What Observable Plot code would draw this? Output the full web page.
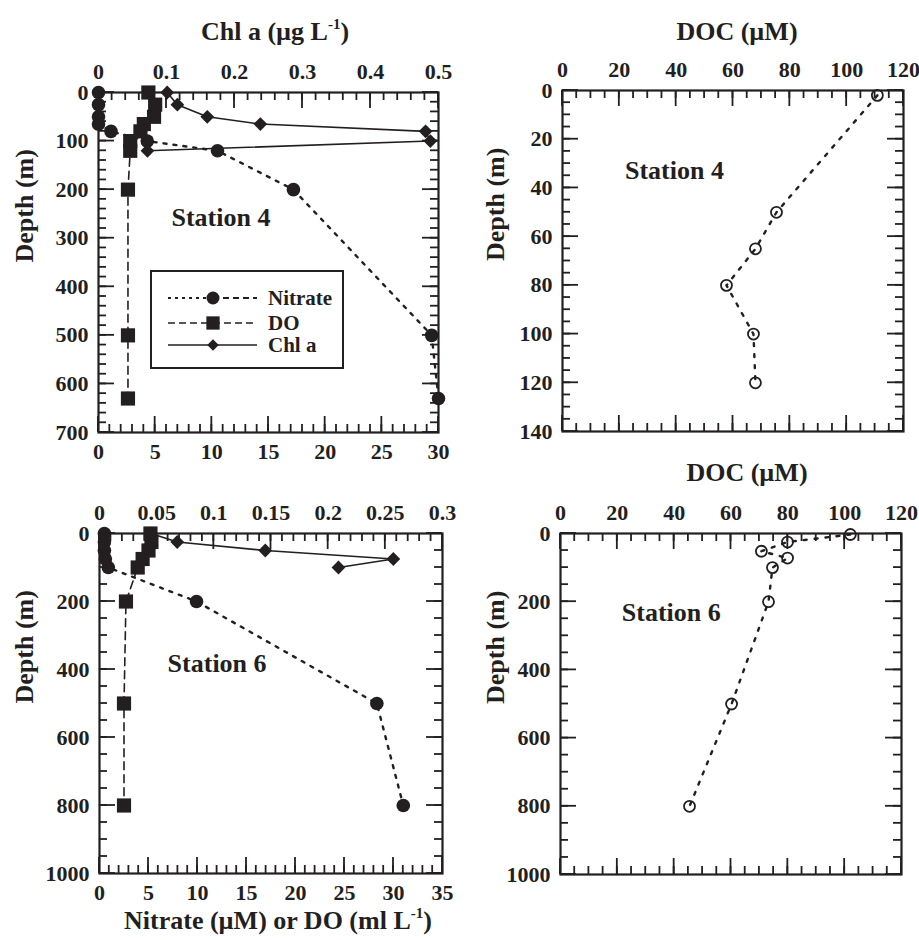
<!DOCTYPE html>
<html><head><meta charset="utf-8">
<script src="https://cdn.jsdelivr.net/npm/d3@7"></script>
<script src="https://cdn.jsdelivr.net/npm/@observablehq/plot@0.6"></script>
<style>
body{margin:0;background:#fff;}
#wrap{position:relative;width:919px;height:940px;background:#fff;font-family:"Liberation Serif","Times New Roman",serif;font-weight:bold;color:#231f20;}
.title{position:absolute;font-size:26px;line-height:26px;text-align:center;white-space:nowrap;}
.title sup{font-size:15px;line-height:0;vertical-align:baseline;position:relative;top:-11px;}
#legend{position:absolute;left:150px;top:270px;z-index:2;}
.ticks{position:absolute;z-index:1;pointer-events:none;overflow:visible;}
</style></head><body><div id="wrap"></div>
<script>
const INK = "#231f20";

// ---------- Station 4: nitrate / DO / Chl a ----------
const st4Depth    = [0, 25, 50, 65, 80, 100, 120, 200, 500, 630];
const st4Nitrate  = [0, 0, 0, 0, 1.1, 4.3, 10.5, 17.2, 29.4, 30.0];
const st4DO       = [4.4, 5.0, 4.9, 4.0, 3.7, 2.8, 2.8, 2.6, 2.6, 2.6];
const st4ChlDepth = [0, 25, 50, 65, 80, 100, 120];
const st4Chl      = [0.101, 0.116, 0.160, 0.238, 0.481, 0.488, 0.072];
// ---------- Station 4: DOC ----------
const st4DocDepth = [2, 50, 65, 80, 100, 120];
const st4Doc      = [110.8, 75.3, 67.9, 57.7, 67.2, 67.9];
// ---------- Station 6: nitrate / DO / Chl a ----------
const st6Depth    = [0, 25, 50, 75, 100, 200, 500, 800];
const st6Nitrate  = [0.5, 0.5, 0.5, 0.6, 0.9, 9.9, 28.3, 31.0];
const st6DO       = [5.2, 5.3, 5.0, 4.4, 3.9, 2.7, 2.5, 2.5];
const st6ChlDepth = [0, 25, 50, 75, 100];
const st6Chl      = [0.045, 0.068, 0.145, 0.257, 0.209];
// ---------- Station 6: DOC ----------
const st6DocDepth = [3, 25, 52, 72, 100, 200, 500, 800];
const st6Doc      = [102, 79.9, 70.7, 79.9, 74.6, 73.2, 60.2, 45.4];

// ---------- tick labels ----------
const nitrate4Ticks = [0, 5, 10, 15, 20, 25, 30];
const chl4Ticks     = [0, 0.1, 0.2, 0.3, 0.4, 0.5];
const depth4Ticks   = [0, 100, 200, 300, 400, 500, 600, 700];
const docTicks      = [0, 20, 40, 60, 80, 100, 120];
const docDepth4Ticks = [0, 20, 40, 60, 80, 100, 120, 140];
const nitrate6Ticks = [0, 5, 10, 15, 20, 25, 30, 35];
const chl6Ticks     = [0, 0.05, 0.1, 0.15, 0.2, 0.25, 0.3];
const depth6Ticks   = [0, 200, 400, 600, 800, 1000];

// ---------- annotations (data units) ----------
const station4Label = [{x: 10.8, y: 257, t: "Station 4"}];
const station4DocLabel = [{x: 39.4, y: 33, t: "Station 4"}];
const station6Label = [{x: 12.0, y: 382, t: "Station 6"}];
const station6DocLabel = [{x: 39, y: 232, t: "Station 6"}];

const K4 = 30 / 0.5;  // Chl a axis -> shared x scale (station 4)
const K6 = 35 / 0.3;  // Chl a axis -> shared x scale (station 6)

const zip = (d, keys, arrs) => d.map((_, i) => Object.fromEntries(keys.map((k, j) => [k, arrs[j][i]])));
const st4 = zip(st4Depth, ["depth", "nitrate", "do"], [st4Depth, st4Nitrate, st4DO]);
const st4c = zip(st4ChlDepth, ["depth", "chl"], [st4ChlDepth, st4Chl]);
const doc4 = zip(st4DocDepth, ["depth", "doc"], [st4DocDepth, st4Doc]);
const st6 = zip(st6Depth, ["depth", "nitrate", "do"], [st6Depth, st6Nitrate, st6DO]);
const st6c = zip(st6ChlDepth, ["depth", "chl"], [st6ChlDepth, st6Chl]);
const doc6 = zip(st6DocDepth, ["depth", "doc"], [st6DocDepth, st6Doc]);

const steps = (max, step, k = 1) => d3.range(0, Math.round(max / step) + 1).map(i => i * step * k);
const fmtChl = k => d => String(+(d / k).toFixed(4));

const wrap = document.getElementById("wrap");

function panel(c) {
  const [mt, mr, mb, ml] = c.m;
  const marks = [
    Plot.frame({stroke: INK, strokeWidth: 2.2, fill: "none"}),
    Plot.axisX(c.topMajor, {anchor: "top", tickSize: 0, tickPadding: 14, tickFormat: c.topFormat, fontSize: 22, label: null}),
    Plot.axisY(c.yMajor, {anchor: "left", tickSize: 0, tickPadding: 10, tickFormat: d => String(d), fontSize: 22, label: null}),
    Plot.text(["Depth (m)"], {text: d => d, frameAnchor: "left", rotate: -90, dx: c.depthDx, fontSize: 26}),
    Plot.text(c.station, {x: "x", y: "y", text: "t", fontSize: 26})
  ];
  if (c.botLabels) marks.push(Plot.axisX(c.botMajor, {anchor: "bottom", tickSize: 0, tickPadding: 11, tickFormat: d => String(d), fontSize: 22, label: null}));
  marks.push(...c.marks);
  const svg = Plot.plot({
    width: c.w, height: c.h,
    marginTop: mt, marginRight: mr, marginBottom: mb, marginLeft: ml,
    x: {domain: c.xDomain, label: null},
    y: {domain: c.yDomain, reverse: true, label: null},
    style: {background: "transparent", fontFamily: "'Liberation Serif', 'Times New Roman', serif", fontWeight: "bold", fontSize: "22px", color: INK, overflow: "visible"},
    marks
  });
  svg.style.position = "absolute";
  svg.style.left = c.left + "px";
  svg.style.top = c.top + "px";
  wrap.append(svg);

  // inward tick marks on a separate overlay, positioned with the plot's own x / y scales
  const sx = svg.scale("x"), sy = svg.scale("y");
  const X = v => sx.apply(v), Y = v => sy.apply(v);
  const [x0, x1] = c.xDomain, [y0, y1] = c.yDomain;
  const ov = d3.create("svg").attr("class", "ticks").attr("width", c.w).attr("height", c.h)
    .style("left", c.left + "px").style("top", c.top + "px");
  const g = ov.append("g").attr("stroke", INK).attr("stroke-width", 1.8).attr("fill", "none");
  const seg = (a, b, p, q) => g.append("line").attr("x1", a).attr("y1", b).attr("x2", p).attr("y2", q);
  c.topMinor.forEach(v => seg(X(v), Y(y0), X(v), Y(y0) + 8));
  c.topMajor.forEach(v => seg(X(v), Y(y0), X(v), Y(y0) + 16));
  c.botMinor.forEach(v => seg(X(v), Y(y1), X(v), Y(y1) - 8));
  c.botMajor.forEach(v => seg(X(v), Y(y1), X(v), Y(y1) - 16));
  c.yMinor.forEach(v => { seg(X(x0), Y(v), X(x0) + 8, Y(v)); seg(X(x1), Y(v), X(x1) - 8, Y(v)); });
  c.yMajor.forEach(v => { seg(X(x0), Y(v), X(x0) + 16, Y(v)); seg(X(x1), Y(v), X(x1) - 16, Y(v)); });
  wrap.append(ov.node());
}

function profileMarks(rows, chlRows, k) {
  return [
    Plot.line(rows, {x: "nitrate", y: "depth", stroke: INK, strokeWidth: 2.4, strokeDasharray: "3,7"}),
    Plot.line(rows, {x: "do", y: "depth", stroke: INK, strokeWidth: 1.6, strokeDasharray: "8,5"}),
    Plot.line(chlRows, {x: d => d.chl * k, y: "depth", stroke: INK, strokeWidth: 1.6}),
    Plot.dot(rows, {x: "nitrate", y: "depth", r: 6.8, fill: INK, symbol: "circle"}),
    Plot.dot(rows, {x: "do", y: "depth", r: 8, fill: INK, symbol: "square"}),
    Plot.dot(chlRows, {x: d => d.chl * k, y: "depth", r: 6.2, fill: INK, symbol: "diamond2"})
  ];
}
function docMarks(rows) {
  return [
    Plot.line(rows, {x: "doc", y: "depth", stroke: INK, strokeWidth: 2.4, strokeDasharray: "3,8"}),
    Plot.dot(rows, {x: "doc", y: "depth", r: 5.5, stroke: INK, strokeWidth: 1.8, fill: "none"})
  ];
}

[
  {left: 0, top: 0, w: 460, h: 470, m: [92, 22, 38, 98],
   xDomain: [0, 30], yDomain: [0, 700],
   topMajor: chl4Ticks.map(v => v * K4), topMinor: steps(0.5, 0.02, K4), topFormat: fmtChl(K4),
   botMajor: nitrate4Ticks, botMinor: steps(30, 1), botLabels: true,
   yMajor: depth4Ticks, yMinor: steps(700, 20),
   depthDx: -74, station: station4Label, marks: profileMarks(st4, st4c, K4)},
  {left: 460, top: 0, w: 459, h: 470, m: [90, 16, 39, 102],
   xDomain: [0, 120], yDomain: [0, 140],
   topMajor: docTicks, topMinor: steps(120, 5), topFormat: d => String(d),
   botMajor: docTicks, botMinor: steps(120, 5), botLabels: false,
   yMajor: docDepth4Ticks, yMinor: steps(140, 5),
   depthDx: -67, station: station4DocLabel, marks: docMarks(doc4)},
  {left: 0, top: 470, w: 460, h: 470, m: [63, 18, 67, 99],
   xDomain: [0, 35], yDomain: [0, 1000],
   topMajor: chl6Ticks.map(v => v * K6), topMinor: steps(0.3, 0.01, K6), topFormat: fmtChl(K6),
   botMajor: nitrate6Ticks, botMinor: steps(35, 1), botLabels: true,
   yMajor: depth6Ticks, yMinor: steps(1000, 50),
   depthDx: -75, station: station6Label, marks: profileMarks(st6, st6c, K6)},
  {left: 460, top: 470, w: 459, h: 470, m: [63, 18, 66, 100],
   xDomain: [0, 120], yDomain: [0, 1000],
   topMajor: docTicks, topMinor: steps(120, 5), topFormat: d => String(d),
   botMajor: docTicks, botMinor: steps(120, 5), botLabels: false,
   yMajor: depth6Ticks, yMinor: steps(1000, 50),
   depthDx: -65, station: station6DocLabel, marks: docMarks(doc6)}
].forEach(panel);

// ---------- titles ----------
function title(html, cx, top, w) {
  const d = document.createElement("div");
  d.className = "title";
  d.innerHTML = html;
  d.style.left = (cx - w / 2) + "px";
  d.style.top = top + "px";
  d.style.width = w + "px";
  wrap.append(d);
}
title("Chl a (µg L<sup>-1</sup>)", 275, 19, 300);
title("DOC (µM)", 737, 19, 200);
title("DOC (µM)", 747, 460, 200);
title("Nitrate (µM) or DO (ml L<sup>-1</sup>)", 278, 908, 400);

// ---------- legend ----------
const legendItems = [
  {label: "Nitrate", symbol: d3.symbolCircle, r: 6.5, dashL: "3,4", dashR: "6,4", sw: 2},
  {label: "DO", symbol: d3.symbolSquare, r: 7.5, dashL: "7,4", dashR: "7,4", sw: 1.6},
  {label: "Chl a", symbol: d3.symbolDiamond2, r: 5.2, dashL: null, dashR: null, sw: 1.6}
];
const leg = d3.create("svg").attr("id", "legend").attr("width", 194).attr("height", 99)
  .style("font-family", "'Liberation Serif', 'Times New Roman', serif").style("font-weight", "bold");
leg.append("rect").attr("x", 1).attr("y", 1).attr("width", 192).attr("height", 97)
  .attr("fill", "white").attr("stroke", INK).attr("stroke-width", 2);
const rowY = [28, 53, 75];
legendItems.forEach((it, i) => {
  const g = leg.append("g").attr("transform", `translate(0,${rowY[i]})`);
  g.append("line").attr("x1", 18).attr("x2", 63).attr("stroke", INK).attr("stroke-width", it.sw).attr("stroke-dasharray", it.dashL);
  g.append("line").attr("x1", 63).attr("x2", 107).attr("stroke", INK).attr("stroke-width", it.sw).attr("stroke-dasharray", it.dashR);
  g.append("path").attr("transform", "translate(63,0)").attr("fill", INK)
    .attr("d", d3.symbol(it.symbol, Math.PI * it.r * it.r)());
  g.append("text").attr("x", 118).attr("y", 7).attr("font-size", 21).attr("fill", INK).text(it.label);
});
wrap.append(leg.node());
</script>
</body></html>
